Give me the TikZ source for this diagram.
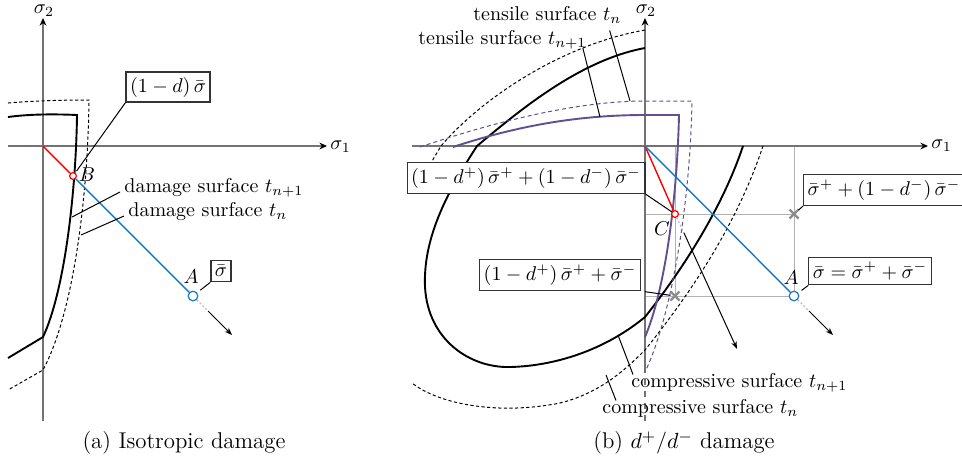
\documentclass[tikz,border=0pt]{standalone}
\usetikzlibrary{arrows.meta,shapes.misc}
\definecolor{tenscol}{RGB}{96,80,144}
\definecolor{sigblue}{RGB}{24,118,200}
\begin{document}
\begin{tikzpicture}[
  x=0.5pt, y=-0.5pt,
  axisline/.style={draw=black!55, line width=0.6pt},
  axisarrow/.style={axisline, -{Stealth[black, length=3.8pt, width=3.4pt]}},
  gridline/.style={draw=black!30, line width=0.5pt},
  surf/.style={line width=0.95pt},
  surfold/.style={line width=0.5pt, dash pattern=on 1.6pt off 1.2pt},
  tens/.style={draw=tenscol, line width=0.95pt},
  tensold/.style={draw=tenscol, line width=0.5pt, dash pattern=on 2pt off 1.5pt},
  ray/.style={line width=0.7pt},
  fadeline/.style={draw=black!25, line width=0.6pt, dash pattern=on 1pt off 1pt},
  flow/.style={line width=0.5pt, -{Stealth[length=3.8pt, width=2.8pt]}},
  box/.style={draw=black!80, line width=0.6pt, fill=white, inner xsep=2pt, inner ysep=2.5pt},
  lbl/.style={inner sep=2pt},
  axlbl/.style={inner sep=1pt},
  lead/.style={line width=0.5pt},
  pt/.style={circle, fill=white, line width=0.6pt, inner sep=0pt},
  xmark/.style={cross out, draw=black!45, line width=1.1pt, minimum size=3.4pt, inner sep=0pt},
  subcap/.style={font=\fontsize{11.4pt}{13.5pt}\selectfont}
]
\useasboundingbox (0,0) rectangle (962,463);

\coordinate (Oa) at (43,146);
\coordinate (s1) at (72,217);
\coordinate (s0) at (81,235);
\coordinate (a1) at (208,311);
\coordinate (a2) at (232,335);

\draw[axisarrow] (43,421) -- (43,18);
\draw[axisarrow] (8,146) -- (327,146);
\node[axlbl, anchor=north] (sig2a) at (44,2) {$\sigma_2$};
\node[axlbl, anchor=west] (sig1a) at (328,147) {$\sigma_1$};

\draw[surf] (8,117) .. controls (30,114) and (55,114) .. (77,115)
  .. controls (76,190) and (65,290) .. (43,337) -- (8,358);
\draw[surfold] (8,103) .. controls (30,101) and (60,100) .. (89,100)
  .. controls (88,190) and (75,310) .. (43,370) -- (8,390);

\node[pt, draw=red, minimum size=3.4pt] (B) at (73,176) {};
\node[pt, draw=sigblue, minimum size=4.8pt] (A) at (193,296) {};
\draw[ray, red] (Oa) -- (B);
\draw[ray, sigblue] (B) -- (A);
\draw[fadeline] (A) -- (a1);
\draw[flow] (a1) -- (a2);
\node[lbl] (Blbl) at (87,175) {$B$};
\node[lbl] (Albl) at (191,277) {$A$};

\node[box] (bdam) at (168,87) {$(1-d)\,\bar\sigma$};
\node[box] (bsig) at (221,271) {$\bar\sigma$};
\draw[lead, shorten >=1pt] (bdam.south west) -- (B);
\draw[lead, shorten >=2pt] (bsig.south west) -- (A);
\node[lbl, anchor=base west] (dsn1) at (120,192) {damage surface $t_{n+1}$};
\node[lbl, anchor=base west] (dsn0) at (124,216) {damage surface $t_n$};
\draw[lead] (dsn1.base west) -- (s1);
\draw[lead] (dsn0.base west) -- (s0);
\node[subcap] (capa) at (184,443) {(a) Isotropic damage};

\coordinate (Ob) at (645,146);
\coordinate (tn1) at (600,117);
\coordinate (tn0) at (630,101);
\coordinate (cn1) at (618,335);
\coordinate (cn0) at (606,375);
\coordinate (c1) at (684,233);
\coordinate (c2) at (737,349);
\coordinate (b1) at (809,311);
\coordinate (b2) at (833,335);

\draw[gridline] (675,146) -- (675,296) (794,146) -- (794,296)
  (645,214) -- (794,214) (645,296) -- (794,296);
\draw[axisarrow] (645,372) -- (645,18);
\draw[axisline, dashed] (645,421) -- (645,372);
\draw[axisarrow] (412,146) -- (928,146);
\node[axlbl, anchor=north] (sig2b) at (646,2) {$\sigma_2$};
\node[axlbl, anchor=west] (sig1b) at (929,146) {$\sigma_1$};

\begin{scope}
\clip (412,0) rectangle (962,421);
\draw[surf] (645,48) .. controls (580,60) and (520,110) .. (477,146)
  .. controls (445,195) and (423,240) .. (425,287)
  .. controls (428,340) and (470,368) .. (510,367)
  .. controls (555,366) and (605,350) .. (645,317)
  .. controls (690,260) and (725,200) .. (743,146);
\draw[surfold] (645,30) .. controls (560,45) and (480,100) .. (441,146) -- (400,215)
  .. controls (370,290) and (380,350) .. (412,383)
  .. controls (440,405) and (500,415) .. (560,403)
  .. controls (600,393) and (625,370) .. (645,350)
  .. controls (685,300) and (735,230) .. (763,146);
\draw[tens] (453,147) .. controls (520,125) and (580,115) .. (645,115) -- (679,115)
  .. controls (677,200) and (665,290) .. (645,337);
\draw[tensold] (420,147) .. controls (500,120) and (580,101) .. (645,101) -- (692,101)
  .. controls (690,210) and (670,320) .. (645,372);
\end{scope}

\node[xmark] (X1) at (794,214) {};
\node[xmark] (X2) at (675,296) {};
\node[pt, draw=red, minimum size=3.4pt] (C) at (675,214) {};
\node[pt, draw=sigblue, minimum size=4.8pt] (A2) at (794,296) {};
\draw[ray, red] (Ob) -- (C);
\draw[ray, sigblue] (Ob) -- (A2);
\draw[fadeline] (C) -- (c1);
\draw[flow] (c1) -- (c2);
\draw[fadeline] (A2) -- (b1);
\draw[flow] (b1) -- (b2);
\node[lbl] (Clbl) at (662,229) {$C$};
\node[lbl] (A2lbl) at (791,278) {$A$};

\node[box] (bfull) at (526,178) {$(1-d^+)\,\bar\sigma^+ + (1-d^-)\,\bar\sigma^-$};
\node[box] (bneg) at (884,190) {$\bar\sigma^+ + (1-d^-)\,\bar\sigma^-$};
\node[box] (beff) at (870,271) {$\bar\sigma = \bar\sigma^+ + \bar\sigma^-$};
\node[box] (bpos) at (560,275) {$(1-d^+)\,\bar\sigma^+ + \bar\sigma^-$};
\draw[lead] (bfull.south east) -- (C);
\draw[lead] (bneg.south west) -- (X1);
\draw[lead, shorten >=2pt] (beff.south west) -- (A2);
\draw[lead, shorten <=2pt] (bpos.south east) -- (X2);

\node[lbl, anchor=base west] (ts0) at (469,20) {tensile surface $t_n$};
\node[lbl, anchor=base west] (ts1) at (414,44) {tensile surface $t_{n+1}$};
\draw[lead] ([xshift=-8pt, yshift=-1.5pt]ts0.south east) -- (tn0);
\draw[lead] ([xshift=-4pt, yshift=2.5pt]ts1.south east) -- (tn1);
\node[lbl, anchor=base west] (cs1) at (627,387) {compressive surface $t_{n+1}$};
\node[lbl, anchor=base west] (cs0) at (598,413) {compressive surface $t_n$};
\draw[lead] ([xshift=3pt, yshift=-3pt]cs1.north west) -- (cn1);
\draw[lead] ([xshift=9pt, yshift=-3pt]cs0.north west) -- (cn0);
\node[subcap] (capb) at (684,443) {(b) $d^+/d^-$ damage};
\end{tikzpicture}
\end{document}
